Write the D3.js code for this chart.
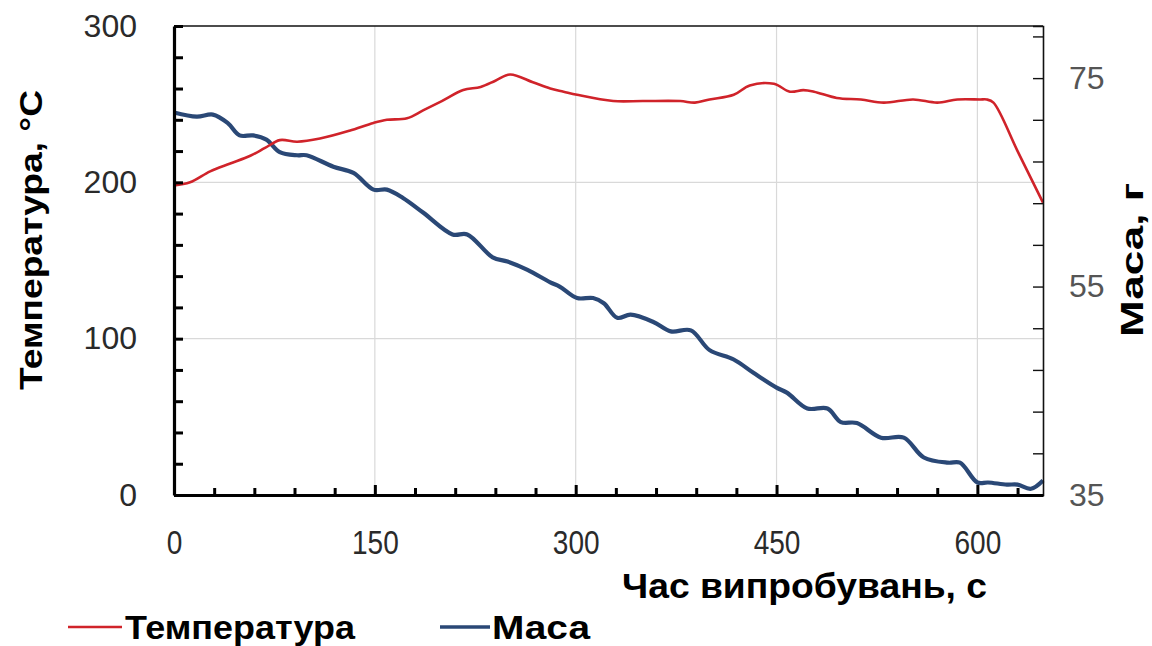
<!DOCTYPE html>
<html>
<head>
<meta charset="utf-8">
<script src="https://cdn.jsdelivr.net/npm/d3@7"></script>
<style>
  body { margin: 0; background: #fff; }
  text { font-family: "Liberation Sans", Arial, sans-serif; }
</style>
</head>
<body>
<svg id="chart" width="1152" height="646"></svg>
<script>
// temperature series (time, s / °C)
var tempTime = [0, 12, 27, 42, 57, 68, 79, 92, 109, 131, 149, 159, 174, 186, 200, 216, 229, 240, 251, 268, 281, 291, 301, 328, 350, 378, 389, 400, 418, 430, 448, 460, 470, 478, 495, 513, 530, 552, 570, 585, 602, 607, 612, 630, 649];
var tempVal = [198, 200, 207, 212, 217, 222, 227, 226, 228, 233, 238, 240, 241, 246, 252, 259, 261, 265, 269, 264, 260, 258, 256, 252, 252, 252, 251, 253, 256, 262, 263, 258, 259, 258, 254, 253, 251, 253, 251, 253, 253, 253, 251, 220, 187];

// mass series (time, s / g)
var massTime = [0, 17, 29, 40, 49, 59, 69, 79, 92, 99, 119, 134, 149, 159, 171, 186, 208, 219, 238, 249, 264, 281, 288, 301, 313, 321, 331, 341, 358, 371, 386, 400, 418, 433, 450, 458, 473, 488, 498, 510, 528, 545, 560, 578, 587, 600, 608, 622, 630, 640, 649];
var massVal = [71.7, 71.3, 71.5, 70.7, 69.5, 69.5, 69.1, 67.9, 67.6, 67.6, 66.5, 65.9, 64.3, 64.3, 63.5, 62.1, 60.0, 60.0, 57.8, 57.4, 56.6, 55.4, 55.0, 53.9, 53.9, 53.4, 52.0, 52.3, 51.6, 50.7, 50.8, 48.9, 48.0, 46.7, 45.3, 44.8, 43.3, 43.3, 42.0, 41.9, 40.5, 40.5, 38.6, 38.1, 38.1, 36.2, 36.2, 36.0, 36.0, 35.6, 36.4];

var xLabels = [0, 150, 300, 450, 600];
var yLeftLabels = [0, 100, 200, 300];
var yRightLabels = [35, 55, 75];

var xTitle = "Час випробувань,  с";
var yLeftTitle = "Температура, °C";
var yRightTitle = "Маса, г";
var seriesNames = ["Температура", "Маса"];

var margin = { top: 26, right: 109, bottom: 151, left: 174 };
var W = 1152, H = 646;
var w = W - margin.left - margin.right;
var h = H - margin.top - margin.bottom;

var svg = d3.select("#chart");
var g = svg.append("g").attr("transform", "translate(" + margin.left + "," + margin.top + ")");

var x = d3.scaleLinear().domain([0, 649]).range([0, w]);
var yL = d3.scaleLinear().domain([0, 300]).range([h, 0]);
var yR = d3.scaleLinear().domain([35, 80]).range([h, 0]);

var red = "#d0232a", blue = "#2a4876";

// gridlines
g.append("g").selectAll("line.gx")
  .data([150, 300, 450, 600]).enter().append("line")
  .attr("x1", d => x(d)).attr("x2", d => x(d))
  .attr("y1", 0).attr("y2", h)
  .attr("stroke", "#d9d9d9").attr("stroke-width", 1.2);
g.append("g").selectAll("line.gy")
  .data([100, 200]).enter().append("line")
  .attr("x1", 0).attr("x2", w)
  .attr("y1", d => yL(d)).attr("y2", d => yL(d))
  .attr("stroke", "#d9d9d9").attr("stroke-width", 1.2);

// lines
var lineT = d3.line().x((d, i) => x(tempTime[i])).y(d => yL(d)).curve(d3.curveCatmullRom.alpha(0.5));
var lineM = d3.line().x((d, i) => x(massTime[i])).y(d => yR(d)).curve(d3.curveCatmullRom.alpha(0.5));

g.append("path").datum(massVal).attr("d", lineM)
  .attr("fill", "none").attr("stroke", blue).attr("stroke-width", 4.2)
  .attr("stroke-linejoin", "round");
g.append("path").datum(tempVal).attr("d", lineT)
  .attr("fill", "none").attr("stroke", red).attr("stroke-width", 2.6)
  .attr("stroke-linejoin", "round");

// frame: top thin
g.append("line").attr("x1", 0).attr("x2", w).attr("y1", 0).attr("y2", 0)
  .attr("stroke", "#111").attr("stroke-width", 1.6);

// right axis (mass)
var axR = g.append("g").attr("transform", "translate(" + w + ",0)")
  .call(d3.axisRight(yR).tickValues(d3.range(35, 80, 4)).tickSize(-10).tickPadding(26).tickFormat(d => yRightLabels.includes(d) ? d : ""));
axR.select(".domain").attr("stroke", "#111").attr("stroke-width", 1.6);
axR.selectAll(".tick line").attr("stroke", "#111").attr("stroke-width", 1.4);
axR.selectAll("text").attr("font-size", 32).attr("fill", "#555");

// left axis (temperature)
var axL = g.append("g")
  .call(d3.axisLeft(yL).tickValues(d3.range(0, 301, 20)).tickSize(-9).tickPadding(37).tickFormat(d => yLeftLabels.includes(d) ? d : "").tickSizeOuter(0));
axL.select(".domain").attr("stroke", "#000").attr("stroke-width", 3.2);
axL.selectAll(".tick line").attr("stroke", "#000").attr("stroke-width", 3);
axL.selectAll("text").attr("font-size", 32).attr("fill", "#2a2a2a");

// bottom axis (time)
var axB = g.append("g").attr("transform", "translate(0," + h + ")")
  .call(d3.axisBottom(x).tickValues(d3.range(0, 649, 30)).tickSize(-8).tickPadding(36).tickFormat(d => xLabels.includes(d) ? d : "").tickSizeOuter(0));
axB.select(".domain").attr("stroke", "#000").attr("stroke-width", 3.2);
axB.selectAll(".tick line").attr("stroke", "#000").attr("stroke-width", 3)
  .attr("y2", d => d % 150 === 0 ? -10 : -7);
axB.selectAll("text").attr("font-size", 33).attr("fill", "#2a2a2a")
  .attr("textLength", d => String(d).length * 15.6).attr("lengthAdjust", "spacingAndGlyphs");

// axis titles
svg.append("text")
  .attr("transform", "translate(42,240) rotate(-90)")
  .attr("text-anchor", "middle").attr("font-size", 32).attr("font-weight", "bold")
  .attr("textLength", 300).attr("lengthAdjust", "spacingAndGlyphs")
  .text(yLeftTitle);
svg.append("text")
  .attr("transform", "translate(1143,260) rotate(-90)")
  .attr("text-anchor", "middle").attr("font-size", 32).attr("font-weight", "bold")
  .attr("textLength", 154).attr("lengthAdjust", "spacingAndGlyphs")
  .text(yRightTitle);
svg.append("text")
  .attr("x", 622).attr("y", 598)
  .attr("font-size", 35).attr("font-weight", "bold")
  .attr("textLength", 365).attr("lengthAdjust", "spacingAndGlyphs")
  .text(xTitle);

// legend
var legendData = [
  { name: seriesNames[0], color: red, x1: 68, x2: 122, tx: 125, tl: 230, sw: 2.6 },
  { name: seriesNames[1], color: blue, x1: 440, x2: 490, tx: 492, tl: 98, sw: 3.6 }
];
var legend = svg.selectAll("g.legend").data(legendData).enter().append("g").attr("class", "legend");
legend.append("line")
  .attr("x1", d => d.x1).attr("x2", d => d.x2)
  .attr("y1", 627).attr("y2", 627)
  .attr("stroke", d => d.color).attr("stroke-width", d => d.sw);
legend.append("text")
  .attr("x", d => d.tx).attr("y", 639)
  .attr("font-size", 33).attr("font-weight", "bold")
  .attr("textLength", d => d.tl).attr("lengthAdjust", "spacingAndGlyphs")
  .text(d => d.name);
</script>
</body>
</html>
